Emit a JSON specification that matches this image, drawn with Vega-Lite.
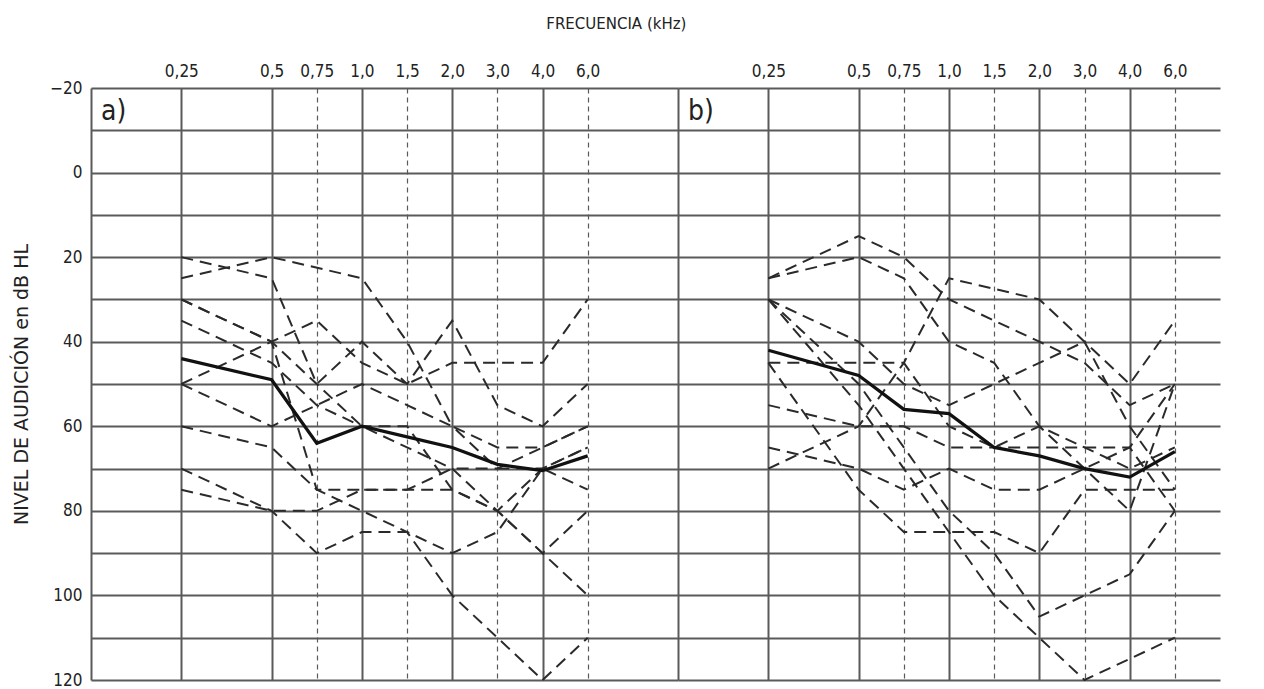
{
  "$schema": "https://vega.github.io/schema/vega-lite/v6.json",
  "padding": {"left": 12, "top": 17, "right": 10, "bottom": 5},
  "background": "white",
  "config": {"view": {"stroke": null}, "concat": {"spacing": 0}},
  "title": {"text": "FRECUENCIA (kHz)", "anchor": "middle", "font": "DejaVu Sans", "fontSize": 15, "fontWeight": "normal", "color": "#222", "offset": 30},
  "datasets": {
    "a": [
      {"s": "1", "f": "0,25", "db": 25}, {"s": "1", "f": "0,5", "db": 20}, {"s": "1", "f": "1,0", "db": 25}, {"s": "1", "f": "1,5", "db": 40}, {"s": "1", "f": "2,0", "db": 60}, {"s": "1", "f": "3,0", "db": 65}, {"s": "1", "f": "4,0", "db": 65}, {"s": "1", "f": "6,0", "db": 60},
      {"s": "2", "f": "0,25", "db": 20}, {"s": "2", "f": "0,5", "db": 25}, {"s": "2", "f": "0,75", "db": 50}, {"s": "2", "f": "1,0", "db": 40}, {"s": "2", "f": "1,5", "db": 50}, {"s": "2", "f": "2,0", "db": 35}, {"s": "2", "f": "3,0", "db": 55}, {"s": "2", "f": "4,0", "db": 60}, {"s": "2", "f": "6,0", "db": 50},
      {"s": "3", "f": "0,25", "db": 30}, {"s": "3", "f": "0,5", "db": 40}, {"s": "3", "f": "0,75", "db": 35}, {"s": "3", "f": "1,0", "db": 45}, {"s": "3", "f": "1,5", "db": 50}, {"s": "3", "f": "2,0", "db": 45}, {"s": "3", "f": "3,0", "db": 45}, {"s": "3", "f": "4,0", "db": 45}, {"s": "3", "f": "6,0", "db": 30},
      {"s": "4", "f": "0,25", "db": 50}, {"s": "4", "f": "0,5", "db": 40}, {"s": "4", "f": "0,75", "db": 75}, {"s": "4", "f": "1,0", "db": 75}, {"s": "4", "f": "1,5", "db": 75}, {"s": "4", "f": "2,0", "db": 70}, {"s": "4", "f": "3,0", "db": 70}, {"s": "4", "f": "4,0", "db": 65}, {"s": "4", "f": "6,0", "db": 60},
      {"s": "5", "f": "0,25", "db": 30}, {"s": "5", "f": "0,5", "db": 40}, {"s": "5", "f": "0,75", "db": 50}, {"s": "5", "f": "1,0", "db": 60}, {"s": "5", "f": "1,5", "db": 65}, {"s": "5", "f": "2,0", "db": 70}, {"s": "5", "f": "3,0", "db": 80}, {"s": "5", "f": "4,0", "db": 90}, {"s": "5", "f": "6,0", "db": 100},
      {"s": "6", "f": "0,25", "db": 35}, {"s": "6", "f": "0,5", "db": 45}, {"s": "6", "f": "0,75", "db": 55}, {"s": "6", "f": "1,0", "db": 60}, {"s": "6", "f": "1,5", "db": 60}, {"s": "6", "f": "2,0", "db": 75}, {"s": "6", "f": "3,0", "db": 80}, {"s": "6", "f": "4,0", "db": 90}, {"s": "6", "f": "6,0", "db": 80},
      {"s": "7", "f": "0,25", "db": 50}, {"s": "7", "f": "0,5", "db": 60}, {"s": "7", "f": "0,75", "db": 55}, {"s": "7", "f": "1,0", "db": 50}, {"s": "7", "f": "1,5", "db": 55}, {"s": "7", "f": "2,0", "db": 60}, {"s": "7", "f": "3,0", "db": 70}, {"s": "7", "f": "4,0", "db": 70}, {"s": "7", "f": "6,0", "db": 65},
      {"s": "8", "f": "0,25", "db": 60}, {"s": "8", "f": "0,5", "db": 65}, {"s": "8", "f": "0,75", "db": 75}, {"s": "8", "f": "1,0", "db": 80}, {"s": "8", "f": "1,5", "db": 85}, {"s": "8", "f": "2,0", "db": 100}, {"s": "8", "f": "3,0", "db": 110}, {"s": "8", "f": "4,0", "db": 120}, {"s": "8", "f": "6,0", "db": 110},
      {"s": "9", "f": "0,25", "db": 70}, {"s": "9", "f": "0,5", "db": 80}, {"s": "9", "f": "0,75", "db": 90}, {"s": "9", "f": "1,0", "db": 85}, {"s": "9", "f": "1,5", "db": 85}, {"s": "9", "f": "2,0", "db": 90}, {"s": "9", "f": "3,0", "db": 85}, {"s": "9", "f": "4,0", "db": 70}, {"s": "9", "f": "6,0", "db": 75},
      {"s": "10", "f": "0,25", "db": 75}, {"s": "10", "f": "0,5", "db": 80}, {"s": "10", "f": "0,75", "db": 80}, {"s": "10", "f": "1,0", "db": 75}, {"s": "10", "f": "1,5", "db": 75}, {"s": "10", "f": "2,0", "db": 75}, {"s": "10", "f": "3,0", "db": 80}, {"s": "10", "f": "4,0", "db": 70}, {"s": "10", "f": "6,0", "db": 65},
      {"s": "m", "f": "0,25", "db": 44}, {"s": "m", "f": "0,5", "db": 49}, {"s": "m", "f": "0,75", "db": 64}, {"s": "m", "f": "1,0", "db": 60}, {"s": "m", "f": "1,5", "db": 62.5}, {"s": "m", "f": "2,0", "db": 65}, {"s": "m", "f": "3,0", "db": 69}, {"s": "m", "f": "4,0", "db": 70.5}, {"s": "m", "f": "6,0", "db": 67}
    ],
    "b": [
      {"s": "1", "f": "0,25", "db": 25}, {"s": "1", "f": "0,5", "db": 15}, {"s": "1", "f": "0,75", "db": 20}, {"s": "1", "f": "1,0", "db": 30}, {"s": "1", "f": "1,5", "db": 35}, {"s": "1", "f": "2,0", "db": 40}, {"s": "1", "f": "3,0", "db": 45}, {"s": "1", "f": "4,0", "db": 55}, {"s": "1", "f": "6,0", "db": 50},
      {"s": "2", "f": "0,25", "db": 25}, {"s": "2", "f": "0,5", "db": 20}, {"s": "2", "f": "0,75", "db": 25}, {"s": "2", "f": "1,0", "db": 40}, {"s": "2", "f": "1,5", "db": 45}, {"s": "2", "f": "2,0", "db": 60}, {"s": "2", "f": "3,0", "db": 70}, {"s": "2", "f": "4,0", "db": 80}, {"s": "2", "f": "6,0", "db": 50},
      {"s": "3", "f": "0,25", "db": 70}, {"s": "3", "f": "0,5", "db": 60}, {"s": "3", "f": "0,75", "db": 45}, {"s": "3", "f": "1,0", "db": 25}, {"s": "3", "f": "2,0", "db": 30}, {"s": "3", "f": "3,0", "db": 40}, {"s": "3", "f": "4,0", "db": 50}, {"s": "3", "f": "6,0", "db": 35},
      {"s": "4", "f": "0,25", "db": 30}, {"s": "4", "f": "0,5", "db": 40}, {"s": "4", "f": "0,75", "db": 50}, {"s": "4", "f": "1,0", "db": 55}, {"s": "4", "f": "1,5", "db": 50}, {"s": "4", "f": "2,0", "db": 45}, {"s": "4", "f": "3,0", "db": 40}, {"s": "4", "f": "4,0", "db": 60}, {"s": "4", "f": "6,0", "db": 75},
      {"s": "5", "f": "0,25", "db": 65}, {"s": "5", "f": "0,5", "db": 70}, {"s": "5", "f": "0,75", "db": 75}, {"s": "5", "f": "1,0", "db": 70}, {"s": "5", "f": "1,5", "db": 75}, {"s": "5", "f": "2,0", "db": 75}, {"s": "5", "f": "3,0", "db": 70}, {"s": "5", "f": "4,0", "db": 65}, {"s": "5", "f": "6,0", "db": 50},
      {"s": "6", "f": "0,25", "db": 45}, {"s": "6", "f": "0,5", "db": 45}, {"s": "6", "f": "0,75", "db": 45}, {"s": "6", "f": "1,0", "db": 60}, {"s": "6", "f": "1,5", "db": 65}, {"s": "6", "f": "2,0", "db": 60}, {"s": "6", "f": "3,0", "db": 65}, {"s": "6", "f": "4,0", "db": 70}, {"s": "6", "f": "6,0", "db": 65},
      {"s": "7", "f": "0,25", "db": 55}, {"s": "7", "f": "0,5", "db": 60}, {"s": "7", "f": "0,75", "db": 60}, {"s": "7", "f": "1,0", "db": 65}, {"s": "7", "f": "1,5", "db": 65}, {"s": "7", "f": "2,0", "db": 65}, {"s": "7", "f": "3,0", "db": 65}, {"s": "7", "f": "4,0", "db": 65}, {"s": "7", "f": "6,0", "db": 80},
      {"s": "8", "f": "0,25", "db": 45}, {"s": "8", "f": "0,5", "db": 75}, {"s": "8", "f": "0,75", "db": 85}, {"s": "8", "f": "1,0", "db": 85}, {"s": "8", "f": "1,5", "db": 85}, {"s": "8", "f": "2,0", "db": 90}, {"s": "8", "f": "3,0", "db": 75}, {"s": "8", "f": "4,0", "db": 75}, {"s": "8", "f": "6,0", "db": 75},
      {"s": "9", "f": "0,25", "db": 30}, {"s": "9", "f": "0,5", "db": 50}, {"s": "9", "f": "0,75", "db": 65}, {"s": "9", "f": "1,0", "db": 80}, {"s": "9", "f": "1,5", "db": 90}, {"s": "9", "f": "2,0", "db": 105}, {"s": "9", "f": "3,0", "db": 100}, {"s": "9", "f": "4,0", "db": 95}, {"s": "9", "f": "6,0", "db": 80},
      {"s": "10", "f": "0,25", "db": 30}, {"s": "10", "f": "0,5", "db": 55}, {"s": "10", "f": "0,75", "db": 70}, {"s": "10", "f": "1,0", "db": 85}, {"s": "10", "f": "1,5", "db": 100}, {"s": "10", "f": "2,0", "db": 110}, {"s": "10", "f": "3,0", "db": 120}, {"s": "10", "f": "4,0", "db": 115}, {"s": "10", "f": "6,0", "db": 110},
      {"s": "m", "f": "0,25", "db": 42}, {"s": "m", "f": "0,5", "db": 48}, {"s": "m", "f": "0,75", "db": 56}, {"s": "m", "f": "1,0", "db": 57}, {"s": "m", "f": "1,5", "db": 65}, {"s": "m", "f": "2,0", "db": 67}, {"s": "m", "f": "3,0", "db": 70}, {"s": "m", "f": "4,0", "db": 72}, {"s": "m", "f": "6,0", "db": 66}
    ]
  },
  "hconcat": [
    {
      "width": 587,
      "height": 592,
      "layer": [
        {
          "data": {"name": "a"},
          "transform": [{"filter": "datum.s != 'm'"}],
          "mark": {"type": "line", "stroke": "#2a2a2a", "strokeWidth": 2, "strokeDash": [12, 7]},
          "encoding": {
            "x": {"field": "f", "type": "ordinal", "title": null,
              "scale": {"type": "point", "padding": 0, "domain": ["a0", "a1", "0,25", "a3", "0,5", "0,75", "1,0", "1,5", "2,0", "3,0", "4,0", "6,0", "a12", "a13"]},
              "axis": {"orient": "top", "values": ["a0", "0,25", "0,5", "0,75", "1,0", "1,5", "2,0", "3,0", "4,0", "6,0"],
                "labelExpr": "datum.value == 'a0' ? '' : datum.label", "labelAngle": 0,
                "ticks": false, "domain": false, "labelPadding": 8, "labelFont": "DejaVu Sans Condensed, DejaVu Sans", "labelFontSize": 17, "labelColor": "#222",
                "grid": true, "gridColor": "#5a5a5a",
                "gridWidth": {"condition": {"test": "indexof(['0,75','1,5','3,0','6,0'], datum.value) >= 0", "value": 1.2}, "value": 2},
                "gridDash": {"condition": {"test": "indexof(['0,75','1,5','3,0','6,0'], datum.value) >= 0", "value": [5, 4]}, "value": []}}},
            "y": {"field": "db", "type": "quantitative",
              "scale": {"domain": [-20, 120], "reverse": true, "nice": false, "zero": false},
              "axis": {"values": [-20, -10, 0, 10, 20, 30, 40, 50, 60, 70, 80, 90, 100, 110, 120],
                "labelExpr": "datum.value % 20 == 0 ? datum.label : ''",
                "ticks": false, "domain": false, "grid": true, "gridColor": "#5a5a5a", "gridWidth": 2,
                "labelPadding": 9, "labelFont": "DejaVu Sans Condensed, DejaVu Sans", "labelFontSize": 17, "labelColor": "#222",
                "title": "NIVEL DE AUDICIÓN en dB HL", "titleFont": "DejaVu Sans", "titleFontSize": 19, "titleFontWeight": "normal", "titleColor": "#222", "titlePadding": 18}},
            "detail": {"field": "s"}
          }
        },
        {
          "data": {"name": "a"},
          "transform": [{"filter": "datum.s == 'm'"}],
          "mark": {"type": "line", "stroke": "#111", "strokeWidth": 3.2},
          "encoding": {
            "x": {"field": "f", "type": "ordinal"},
            "y": {"field": "db", "type": "quantitative"}
          }
        },
        {
          "data": {"values": [{"t": "a)"}]},
          "mark": {"type": "text", "align": "left", "baseline": "middle", "dx": 10, "dy": 3, "font": "DejaVu Sans Condensed, DejaVu Sans", "fontSize": 28, "color": "#222"},
          "encoding": {
            "x": {"datum": "a0", "type": "ordinal"},
            "y": {"datum": -15, "type": "quantitative"},
            "text": {"field": "t"}
          }
        }
      ]
    },
    {
      "width": 542,
      "height": 592,
      "layer": [
        {
          "data": {"name": "b"},
          "transform": [{"filter": "datum.s != 'm'"}],
          "mark": {"type": "line", "stroke": "#2a2a2a", "strokeWidth": 2, "strokeDash": [12, 7]},
          "encoding": {
            "x": {"field": "f", "type": "ordinal", "title": null,
              "scale": {"type": "point", "padding": 0, "domain": ["b0", "b1", "0,25", "b3", "0,5", "0,75", "1,0", "1,5", "2,0", "3,0", "4,0", "6,0", "b12"]},
              "axis": {"orient": "top", "values": ["b0", "0,25", "0,5", "0,75", "1,0", "1,5", "2,0", "3,0", "4,0", "6,0"],
                "labelExpr": "datum.value == 'b0' ? '' : datum.label", "labelAngle": 0,
                "ticks": false, "domain": false, "labelPadding": 8, "labelFont": "DejaVu Sans Condensed, DejaVu Sans", "labelFontSize": 17, "labelColor": "#222",
                "grid": true, "gridColor": "#5a5a5a",
                "gridWidth": {"condition": {"test": "indexof(['0,75','1,5','3,0','6,0'], datum.value) >= 0", "value": 1.2}, "value": 2},
                "gridDash": {"condition": {"test": "indexof(['0,75','1,5','3,0','6,0'], datum.value) >= 0", "value": [5, 4]}, "value": []}}},
            "y": {"field": "db", "type": "quantitative",
              "scale": {"domain": [-20, 120], "reverse": true, "nice": false, "zero": false},
              "axis": {"values": [-20, -10, 0, 10, 20, 30, 40, 50, 60, 70, 80, 90, 100, 110, 120],
                "labels": false, "ticks": false, "domain": false, "grid": true, "gridColor": "#5a5a5a", "gridWidth": 2, "title": null}},
            "detail": {"field": "s"}
          }
        },
        {
          "data": {"name": "b"},
          "transform": [{"filter": "datum.s == 'm'"}],
          "mark": {"type": "line", "stroke": "#111", "strokeWidth": 3.2},
          "encoding": {
            "x": {"field": "f", "type": "ordinal"},
            "y": {"field": "db", "type": "quantitative"}
          }
        },
        {
          "data": {"values": [{"t": "b)"}]},
          "mark": {"type": "text", "align": "left", "baseline": "middle", "dx": 10, "dy": 3, "font": "DejaVu Sans Condensed, DejaVu Sans", "fontSize": 28, "color": "#222"},
          "encoding": {
            "x": {"datum": "b0", "type": "ordinal"},
            "y": {"datum": -15, "type": "quantitative"},
            "text": {"field": "t"}
          }
        }
      ]
    }
  ]
}
